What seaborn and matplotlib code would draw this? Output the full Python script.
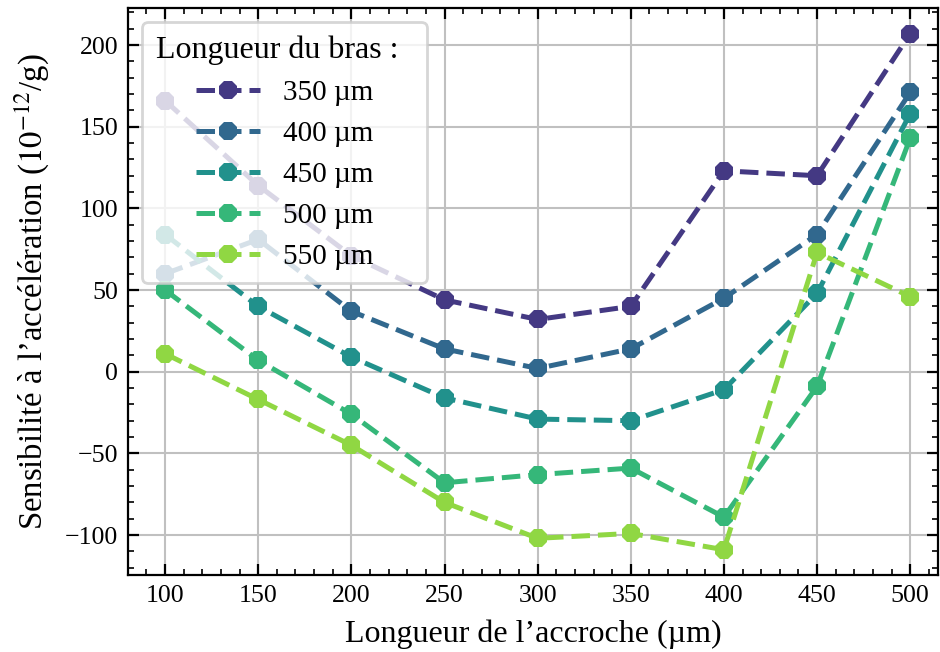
import pandas as pd
import matplotlib
matplotlib.use('Agg')
import matplotlib.pyplot as plt
from matplotlib.ticker import MultipleLocator
import seaborn as sns

# Values
accroche = [100, 150, 200, 250, 300, 350, 400, 450, 500]
bras = ['350 µm', '400 µm', '450 µm', '500 µm', '550 µm']
sens_350 = [166, 114, 71, 44, 32, 40, 123, 120, 207]
sens_400 = [60, 81, 37, 14, 2, 14, 45, 84, 171]
sens_450 = [84, 40, 9, -16, -29, -30, -11, 48, 158]
sens_500 = [50, 7, -26, -68, -63, -59, -89, -9, 143]
sens_550 = [11, -17, -45, -80, -102, -99, -109, 73, 46]

rows = []
for b, vals in zip(bras, [sens_350, sens_400, sens_450, sens_500, sens_550]):
    for x, y in zip(accroche, vals):
        rows.append({'accroche': x, 'sens': y, 'bras': b})
df = pd.DataFrame(rows)

sns.set_style('whitegrid')
plt.rcParams['font.family'] = ['Liberation Serif', 'DejaVu Serif']
plt.rcParams['mathtext.fontset'] = 'stix'
plt.rcParams['axes.unicode_minus'] = True
plt.rcParams['text.color'] = 'black'
plt.rcParams['axes.labelcolor'] = 'black'

fig = plt.figure(figsize=(4.7, 3.26), dpi=200)
ax = fig.add_axes([0.136, 0.118, 0.862, 0.870])

sns.lineplot(data=df, x='accroche', y='sens', hue='bras', hue_order=bras,
             palette='viridis', marker='8', markersize=7.2, markeredgewidth=0,
             linestyle='--', linewidth=1.8, ax=ax)

ax.set_xlim(80, 515)
ax.set_ylim(-124.5, 222.8)
ax.xaxis.set_major_locator(MultipleLocator(50))
ax.xaxis.set_minor_locator(MultipleLocator(10))
ax.yaxis.set_major_locator(MultipleLocator(50))
ax.yaxis.set_minor_locator(MultipleLocator(10))
ax.grid(True, which='major', color='#c0c0c0', linewidth=0.75)
ax.grid(False, which='minor')
for s in ax.spines.values():
    s.set_color('black')
    s.set_linewidth(0.8)
ax.tick_params(which='both', direction='in', top=True, right=True,
               bottom=True, left=True, colors='black', labelsize=9.3)
ax.tick_params(which='major', length=4, width=0.8)
ax.tick_params(which='minor', length=2, width=0.6)

ax.set_xlabel('Longueur de l’accroche (µm)', fontsize=11.5, labelpad=4.5)
ax.set_ylabel('Sensibilité à l’accélération ($10^{-12}$/g)', fontsize=11.8, labelpad=5)

handles, labels = ax.get_legend_handles_labels()
leg = ax.legend(handles, labels, title='Longueur du bras :\u00a0\u00a0', loc='upper left',
                fontsize=10.5, title_fontsize=11.5, frameon=True, framealpha=0.8,
                handlelength=2.2, handletextpad=0.8, labelspacing=0.5,
                borderpad=0.45, borderaxespad=0.5)
leg.get_frame().set_edgecolor('#cccccc')

fig.savefig('out.png', dpi=200)
